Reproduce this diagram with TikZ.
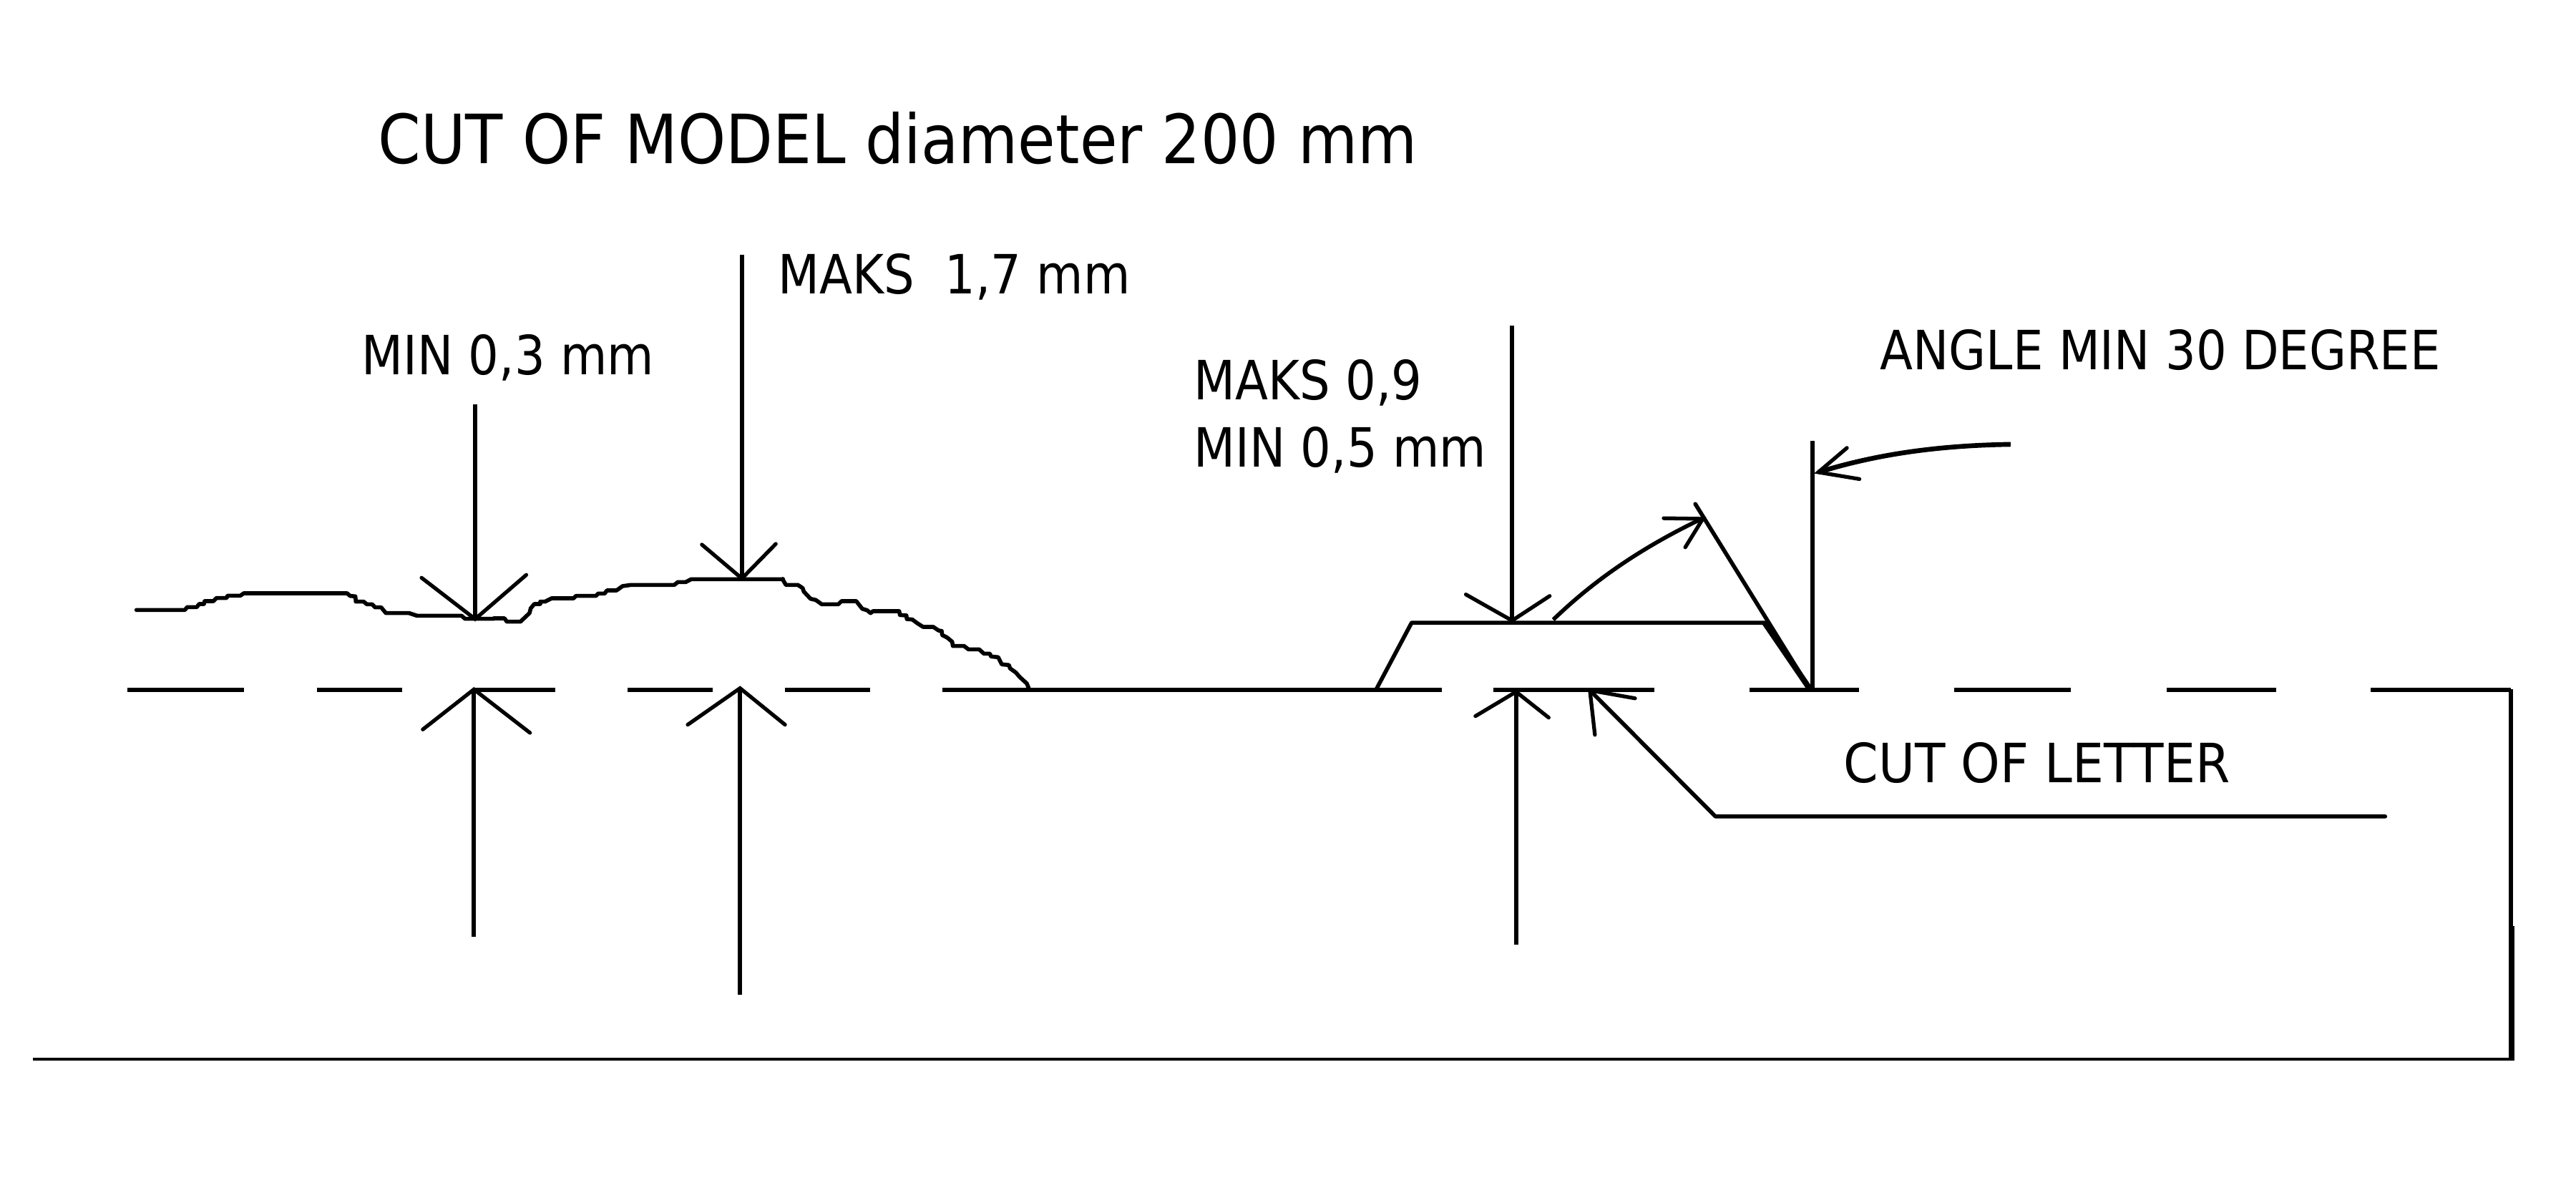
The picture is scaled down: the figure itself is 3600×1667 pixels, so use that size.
\documentclass[tikz,border=0pt]{standalone}
\usepackage{fontspec}
\newfontfamily\lab[FakeStretch=0.888]{DejaVu Sans}
\newfontfamily\labw[FakeStretch=0.90]{DejaVu Sans}
\newfontfamily\labc[FakeStretch=0.92]{DejaVu Sans}
\tikzset{
  ln/.style={line width=1.6pt,line cap=butt,line join=miter},
  hd/.style={line width=1.5pt,line cap=round,line join=miter},
  prof/.style={line width=1.6pt,line join=round,line cap=round},
  dsh/.style={line width=1.7pt},
  ttl/.style={anchor=base west,inner sep=0pt,font=\labw\fontsize{27}{30}\selectfont},
  lbl/.style={anchor=base west,inner sep=0pt,font=\lab\fontsize{21.5}{24}\selectfont},
  lblw/.style={anchor=base west,inner sep=0pt,font=\labc\fontsize{21.5}{24}\selectfont}
}
\begin{document}
\begin{tikzpicture}[x=0.01cm,y=-0.01cm]
\useasboundingbox (0,0) rectangle (3600,1667);
% texts
\node[ttl] (title) at (528,229) {CUT OF MODEL diameter 200 mm};
\node[lbl] (maks17) at (1087,411) {MAKS\ \ 1,7 mm};
\node[lbl] (min03) at (505,524) {MIN 0,3 mm};
\node[lbl] (maks09) at (1668,558) {MAKS 0,9};
\node[lbl] (min05) at (1668,652) {MIN 0,5 mm};
\node[lbl] (angle) at (2627,517) {ANGLE MIN 30 DEGREE};
\node[lblw] (cutl) at (2576,1093) {CUT OF LETTER};
% base dashes
\foreach \a/\b in {178/341,443/562,662/776,877/996,1097/1216,1317/2015,2087/2312,2445/2598,2731/2894,3028/3181,3313/3509}
  \draw[dsh] (\a,964) -- (\b,964);
% frame
\coordinate (fa) at (3509,963);
\coordinate (fb) at (3509,1480);
\coordinate (fc) at (46,1480);
\coordinate (fd) at (3510,1294);
\draw[line width=1.65pt] (fa) -- (fb);
\draw[line width=2.2pt] (fd) -- (3510,1482);
\draw[line width=1.3pt] (fb) -- (fc);
% model profile
\begin{scope}[shift={(180,800)},scale=0.3333]
\draw[prof] (32,157)--(235,157)--(245,145)--(285,145)--(295,132)--(315,132)--(318,120)--(355,120)--(367,107)--(410,107)--(414,97)--(468,97)--(482,87)--(915,87)--(928,98)--(950,100)--(952,122)--(985,122)--(998,133)--(1020,133)--(1033,146)--(1058,146)--(1078,170)--(1175,170)--(1208,181)--(1395,181)--(1410,194)--(1530,194);
\end{scope}
\begin{scope}[shift={(690,790)},scale=0.3333]
\draw[prof] (0,222)--(45,222)--(55,236)--(112,236)--(150,200)--(155,180)--(170,162)--(195,162)--(195,152)--(215,152)--(243,138)--(335,138)--(345,128)--(428,128)--(438,118)--(465,118)--(475,105)--(515,105)--(540,87)--(575,82)--(757,82)--(772,70)--(805,70)--(828,58)--(1213,58);
\end{scope}
\begin{scope}[shift={(1090,800)},scale=0.3333]
\draw[prof] (12,27)--(12,30)--(25,52)--(75,52)--(95,65)--(100,80)--(128,110)--(150,115)--(175,133)--(245,133)--(258,120)--(320,120)--(345,152)--(365,158)--(380,170)--(390,162)--(500,162)--(503,178)--(530,180)--(532,195)--(555,197)--(575,212)--(600,228)--(643,228)--(665,243)--(678,245)--(680,262)--(700,272)--(722,290)--(725,308)--(772,308)--(790,322)--(835,322)--(855,340)--(880,340)--(885,352)--(915,355)--(930,385)--(960,388)--(965,402)--(990,420)--(1005,438)--(1035,465)--(1045,490);
\end{scope}
% model dimension arrows
\begin{scope}[shift={(150,700)},xscale=0.861,yscale=0.3333]
\coordinate (t1) at (597,495);
\coordinate (t2) at (1030,325);
\coordinate (t3) at (595,790);
\coordinate (t4) at (1027,785);
\coordinate (s1) at (597,-405);
\coordinate (s2) at (1030,-1032);
\coordinate (s3) at (595,1827);
\coordinate (s4) at (1027,2070);
\draw[ln] (s1) -- (t1);
\draw[ln] (s2) -- (t2);
\draw[ln] (s3) -- (t3);
\draw[ln] (s4) -- (t4);
\draw[hd] (510,322) -- (t1) -- (680,310);
\draw[hd] (965,183) -- (t2) -- (1085,180);
\draw[hd] (512,958) -- (t3) -- (686,972);
\draw[hd] (942,938) -- (t4) -- (1100,938);
\end{scope}
% letter section
\begin{scope}[shift={(1850,550)},xscale=0.7016,yscale=0.4146]
\coordinate (u1) at (375,765);
\coordinate (u0) at (375,-229);
\coordinate (u2) at (383,1005);
\coordinate (u3) at (383,1858);
\coordinate (v1) at (973,158);
\coordinate (v2) at (973,995);
\coordinate (la) at (530,1000);
\coordinate (lb) at (780,1425);
\coordinate (lc) at (2114,1425);
\draw[ln] (u0) -- (u1);
\draw[hd] (283,677) -- (u1) -- (450,682);
\draw[ln] (u3) -- (u2);
\draw[hd] (302,1087) -- (u2) -- (448,1092);
\draw[prof] (105,995) -- (175,772) -- (878,772);
\draw[prof] (740,372) -- (968,995);
\draw[line width=2.3pt] (878,772) -- (968,995);
\draw[ln] (v1) -- (v2);
\draw[ln] (457,762) .. controls (550,610) and (650,505) .. (755,420);
\draw[hd] (677,420) -- (755,422) -- (720,518);
\draw[line width=1.9pt] (1368,171) .. controls (1220,175) and (1100,205) .. (985,265);
\draw[hd] (1042,183) -- (985,265) -- (1067,288);
\draw[prof] (la) -- (lb) -- (lc);
\draw[hd] (620,1027) -- (la) -- (540,1150);
\end{scope}
\end{tikzpicture}
\end{document}
